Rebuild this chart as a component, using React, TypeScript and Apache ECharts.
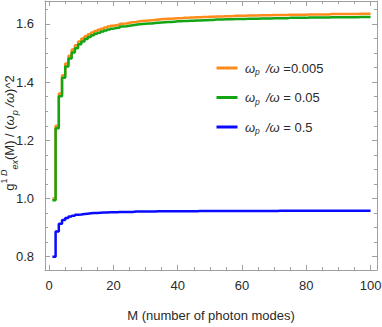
import React, { useEffect, useRef } from "react";
import * as echarts from "echarts";

const modes: number[] = Array.from({ length: 100 }, (_, i) => i + 1);

const orange: number[] = [
  1.000, 1.250, 1.361, 1.424, 1.464, 1.491, 1.512, 1.527, 1.540, 1.550,
  1.558, 1.565, 1.571, 1.576, 1.580, 1.584, 1.588, 1.591, 1.594, 1.596,
  1.598, 1.601, 1.602, 1.604, 1.606, 1.607, 1.609, 1.610, 1.611, 1.612,
  1.613, 1.614, 1.615, 1.616, 1.617, 1.618, 1.618, 1.619, 1.620, 1.620,
  1.621, 1.621, 1.622, 1.622, 1.623, 1.623, 1.624, 1.624, 1.625, 1.625,
  1.626, 1.626, 1.626, 1.627, 1.627, 1.627, 1.628, 1.628, 1.628, 1.628,
  1.629, 1.629, 1.629, 1.629, 1.630, 1.630, 1.630, 1.630, 1.631, 1.631,
  1.631, 1.631, 1.631, 1.632, 1.632, 1.632, 1.632, 1.632, 1.632, 1.633,
  1.633, 1.633, 1.633, 1.633, 1.633, 1.633, 1.634, 1.634, 1.634, 1.634,
  1.634, 1.634, 1.634, 1.634, 1.634, 1.635, 1.635, 1.635, 1.635, 1.635,
];

const green: number[] = [
  0.994, 1.242, 1.352, 1.415, 1.454, 1.481, 1.502, 1.517, 1.530, 1.540,
  1.548, 1.555, 1.561, 1.566, 1.570, 1.574, 1.578, 1.581, 1.584, 1.586,
  1.588, 1.591, 1.592, 1.594, 1.596, 1.597, 1.599, 1.600, 1.601, 1.602,
  1.602, 1.603, 1.604, 1.605, 1.606, 1.607, 1.607, 1.608, 1.609, 1.609,
  1.610, 1.610, 1.611, 1.611, 1.612, 1.612, 1.613, 1.613, 1.614, 1.614,
  1.615, 1.615, 1.615, 1.616, 1.616, 1.616, 1.617, 1.617, 1.617, 1.617,
  1.618, 1.618, 1.618, 1.618, 1.619, 1.619, 1.619, 1.619, 1.620, 1.620,
  1.620, 1.620, 1.620, 1.621, 1.621, 1.621, 1.621, 1.621, 1.621, 1.622,
  1.622, 1.622, 1.622, 1.622, 1.622, 1.622, 1.623, 1.623, 1.623, 1.623,
  1.623, 1.623, 1.623, 1.623, 1.623, 1.624, 1.624, 1.624, 1.624, 1.624,
];

const blue: number[] = [
  0.800, 0.887, 0.913, 0.926, 0.933, 0.938, 0.941, 0.944, 0.945, 0.947,
  0.948, 0.949, 0.950, 0.950, 0.951, 0.952, 0.952, 0.953, 0.953, 0.953,
  0.954, 0.954, 0.954, 0.954, 0.954, 0.955, 0.955, 0.955, 0.955, 0.955,
  0.955, 0.955, 0.956, 0.956, 0.956, 0.956, 0.956, 0.956, 0.956, 0.956,
  0.956, 0.956, 0.956, 0.956, 0.956, 0.957, 0.957, 0.957, 0.957, 0.957,
  0.957, 0.957, 0.957, 0.957, 0.957, 0.957, 0.957, 0.957, 0.957, 0.957,
  0.957, 0.957, 0.957, 0.957, 0.957, 0.957, 0.957, 0.957, 0.957, 0.957,
  0.958, 0.958, 0.958, 0.958, 0.958, 0.958, 0.958, 0.958, 0.958, 0.958,
  0.958, 0.958, 0.958, 0.958, 0.958, 0.958, 0.958, 0.958, 0.958, 0.958,
  0.958, 0.958, 0.958, 0.958, 0.958, 0.958, 0.958, 0.958, 0.958, 0.958,
];

const seriesNames = ["ωp/ω =0.005", "ωp/ω = 0.05", "ωp/ω = 0.5"];
const legendTexts = [
  "{i|ω}{s|p}{i| /ω} {n|=0.005}",
  "{i|ω}{s|p}{i| /ω} {n|= 0.05}",
  "{i|ω}{s|p}{i| /ω} {n|= 0.5}",
];
const colors = ["#ff8c1a", "#14a514", "#0a0aff"];

const xMajor = [0, 20, 40, 60, 80, 100];
const xMinor = [5, 10, 15, 25, 30, 35, 45, 50, 55, 65, 70, 75, 85, 90, 95];
const yMajor = [0.8, 1.0, 1.2, 1.4, 1.6];
const yMinor = [0.85, 0.9, 0.95, 1.05, 1.1, 1.15, 1.25, 1.3, 1.35, 1.45, 1.5, 1.55, 1.65];

const xTitle = "M (number of photon modes)";
const yTitle = "{g|g}{sup|1 }{supi|D}{sub|ex}{g|(M) / (}{gi|ω}{sub|p}{gi| /ω}{g|)^2}";

const FONT = "Liberation Sans, Arial, sans-serif";
const FRAME = "#a0a0a0";
const TEXT = "#2a2a2a";

const X_MIN = -1.3;
const X_MAX = 102;
const Y_MIN = 0.7543;
const Y_MAX = 1.679;

function xAxisDef(position: "top" | "bottom", ticks: number[], len: number, main: boolean) {
  return {
    type: "value",
    position,
    min: X_MIN,
    max: X_MAX,
    axisLine: { show: main, onZero: false, lineStyle: { color: FRAME, width: 1 } },
    axisTick: { show: true, inside: true, length: len, customValues: ticks, lineStyle: { color: FRAME, width: 1 } },
    axisLabel: main && position === "bottom"
      ? { show: true, customValues: xMajor, margin: 9, color: TEXT, fontSize: 13, fontFamily: FONT }
      : { show: false },
    splitLine: { show: false },
  };
}

function yAxisDef(position: "left" | "right", ticks: number[], len: number, main: boolean) {
  return {
    type: "value",
    position,
    min: Y_MIN,
    max: Y_MAX,
    axisLine: { show: main, onZero: false, lineStyle: { color: FRAME, width: 1 } },
    axisTick: { show: true, inside: true, length: len, customValues: ticks, lineStyle: { color: FRAME, width: 1 } },
    axisLabel: main && position === "left"
      ? {
          show: true,
          customValues: yMajor,
          margin: 11,
          color: TEXT,
          fontSize: 13,
          fontFamily: FONT,
          formatter: (v: number) => v.toFixed(1),
        }
      : { show: false },
    splitLine: { show: false },
  };
}

export default function App() {
  const ref = useRef<HTMLDivElement>(null);

  useEffect(() => {
    if (!ref.current) return;
    const chart = echarts.init(ref.current, undefined, { renderer: "svg" });
    const datasets = [orange, green, blue];
    chart.setOption({
      animation: false,
      backgroundColor: "#ffffff",
      grid: { left: 45, right: 5, top: 1, bottom: 57, containLabel: false, outerBoundsMode: "none" },
      xAxis: [
        xAxisDef("bottom", xMajor, 5, true),
        xAxisDef("bottom", xMinor, 3, false),
        xAxisDef("top", xMajor, 5, true),
        xAxisDef("top", xMinor, 3, false),
      ],
      yAxis: [
        yAxisDef("left", yMajor, 5, true),
        yAxisDef("left", yMinor, 3, false),
        yAxisDef("right", yMajor, 5, true),
        yAxisDef("right", yMinor, 3, false),
      ],
      legend: {
        orient: "vertical",
        left: 216.5,
        top: 61.5,
        padding: 0,
        itemWidth: 21,
        itemHeight: 3,
        itemGap: 14.5,
        icon: "rect",
        data: seriesNames,
        formatter: (name: string) => legendTexts[seriesNames.indexOf(name)],
        textStyle: {
          color: TEXT,
          fontFamily: FONT,
          fontSize: 13,
          rich: {
            i: { fontStyle: "italic", fontSize: 13, fontFamily: FONT, color: TEXT, lineHeight: 17, padding: [0, 0, 0, 2.5] },
            s: { fontStyle: "italic", fontSize: 8.5, fontFamily: FONT, color: TEXT, lineHeight: 10, verticalAlign: "bottom" },
            n: { fontSize: 13, fontFamily: FONT, color: TEXT, lineHeight: 17 },
          },
        },
      },
      graphic: [
        {
          type: "text",
          x: -1,
          y: 133,
          rotation: Math.PI / 2,
          style: {
            text: yTitle,
            align: "center",
            verticalAlign: "top",
            fill: TEXT,
            fontFamily: FONT,
            fontSize: 13,
            rich: {
              g: { fontSize: 13, fontFamily: FONT, fill: TEXT, lineHeight: 20 },
              gi: { fontSize: 13, fontFamily: FONT, fontStyle: "italic", fill: TEXT, lineHeight: 20 },
              sup: { fontSize: 9, fontFamily: FONT, fill: TEXT, lineHeight: 12, verticalAlign: "top" },
              supi: { fontSize: 9, fontFamily: FONT, fontStyle: "italic", fill: TEXT, lineHeight: 12, verticalAlign: "top" },
              sub: { fontSize: 9, fontFamily: FONT, fontStyle: "italic", fill: TEXT, lineHeight: 12, verticalAlign: "bottom" },
            },
          },
        },
        {
          type: "text",
          x: 211,
          y: 315,
          style: {
            text: xTitle,
            align: "center",
            verticalAlign: "middle",
            fill: TEXT,
            fontFamily: FONT,
            fontSize: 13,
          },
        },
      ],
      series: datasets.map((d, k) => ({
        name: seriesNames[k],
        type: "line",
        step: "end",
        xAxisIndex: 0,
        yAxisIndex: 0,
        showSymbol: false,
        symbol: "none",
        lineStyle: { color: colors[k], width: 2.5 },
        itemStyle: { color: colors[k] },
        data: modes.map((m, i) => [m, d[i]]),
      })),
    });
    return () => chart.dispose();
  }, []);

  return (
    <div
      ref={ref}
      style={{ position: "fixed", left: 0, top: 0, width: 382, height: 327, background: "#fff" }}
    />
  );
}
